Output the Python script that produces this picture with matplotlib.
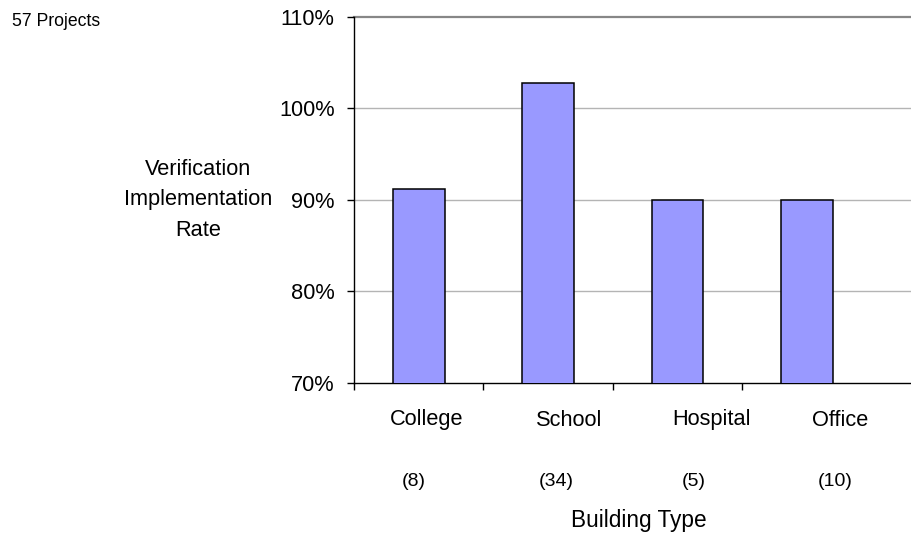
import matplotlib
matplotlib.use("Agg")
import matplotlib.pyplot as plt
from matplotlib.ticker import FuncFormatter, FixedLocator

plt.rcParams['font.family'] = ['Liberation Sans', 'DejaVu Sans']

categories = ["College", "School", "Hospital", "Office"]
counts = ["(8)", "(34)", "(5)", "(10)"]
rates = [0.912, 1.028, 0.900, 0.900]
yticks = [0.7, 0.8, 0.9, 1.0, 1.1]

W, H = 912, 537
fig = plt.figure(figsize=(W / 100, H / 100), dpi=100)

def px(x, y):
    return x / W, 1 - y / H

left, top, bottom = 354, 16.7, 382.7
ax = fig.add_axes([left / W, (H - bottom) / H, 1 - left / W, (bottom - top) / H])

x = list(range(len(categories)))
ax.bar(x, rates, width=0.4, color="#9999FF", edgecolor="black", linewidth=1.1, zorder=3)

ax.set_ylim(0.7, 1.1)
ax.set_xlim(-0.5, -0.5 + (W - left) / 129.4)

for v in yticks[1:-1]:
    ax.axhline(v, color="#b4b4b4", linewidth=1.0, zorder=1)
ax.axhline(1.1, color="#878787", linewidth=1.6, zorder=1, clip_on=False)

for s in ["top", "right"]:
    ax.spines[s].set_visible(False)
ax.spines["left"].set_color("black")
ax.spines["bottom"].set_color("black")
ax.spines["left"].set_linewidth(1.0)
ax.spines["bottom"].set_linewidth(1.0)

ax.yaxis.set_major_locator(FixedLocator(yticks))
ax.yaxis.set_major_formatter(FuncFormatter(lambda v, p: f"{v*100:.0f}%"))
ax.tick_params(axis="y", direction="out", length=5, width=1, pad=9, labelsize=15.7, colors="black")
ax.set_xticks([i - 0.5 for i in range(len(categories))])
ax.set_xticklabels([])
ax.tick_params(axis="x", direction="out", length=5, width=1)

# category labels and counts
cat_x = [427, 569, 712, 840]
cnt_x = [414, 556, 694, 835]
for c, n, cx, nx in zip(categories, counts, cat_x, cnt_x):
    fig.text(*px(cx, 420), c, ha="center", va="center", fontsize=15.7)
    fig.text(*px(nx, 481), n, ha="center", va="center", fontsize=14)

fig.text(*px(639, 521), "Building Type", ha="center", va="center", fontsize=16.3)
fig.text(*px(198, 200), "Verification\nImplementation\nRate", ha="center", va="center",
         fontsize=15.7, linespacing=1.6)
fig.text(*px(12, 21), "57 Projects", ha="left", va="center", fontsize=12.7)

fig.savefig("out.png", dpi=100)
